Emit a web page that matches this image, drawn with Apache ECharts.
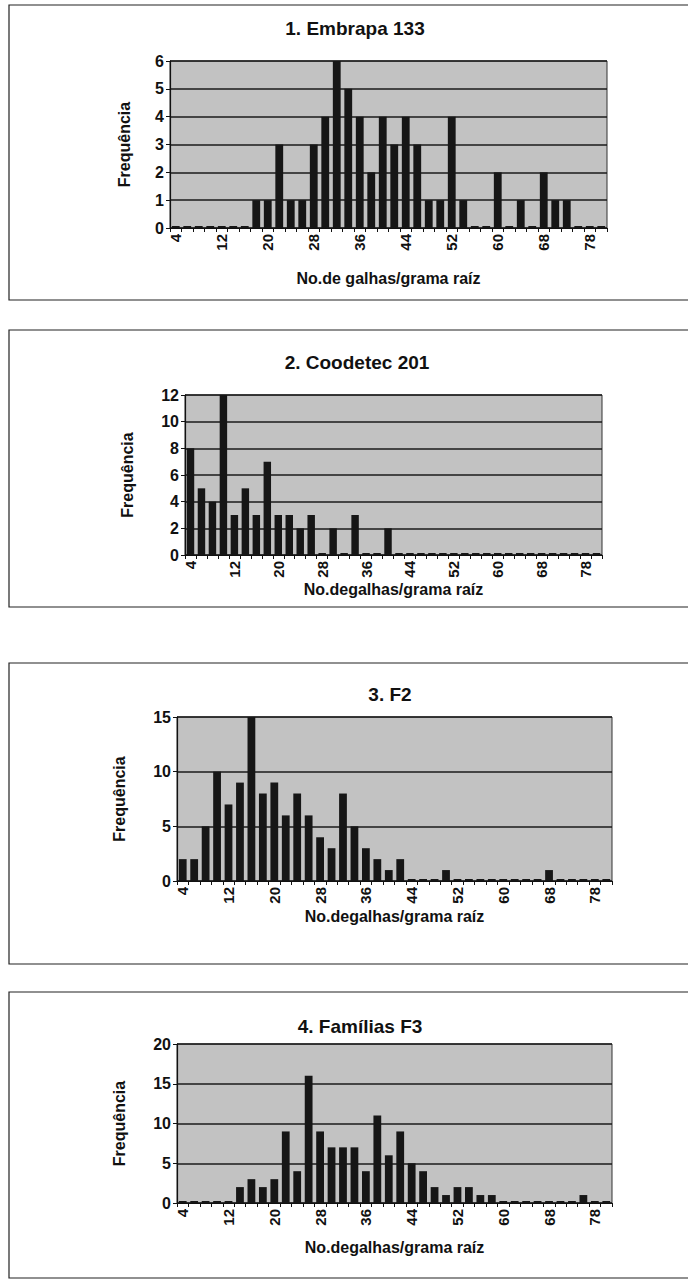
<!DOCTYPE html>
<html><head><meta charset="utf-8">
<script src="https://cdn.jsdelivr.net/npm/echarts@6/dist/echarts.min.js"></script>
<style>html,body{margin:0;padding:0;background:#fff}#c{width:688px;height:1286px}</style>
</head><body><div id="c"></div>
<script>
// categories: No. de galhas / grama raíz
const categories = ['4','6','8','10','12','14','16','18','20','22','24','26','28','30','32','34','36','38','40','42','44','46','48','50','52','54','56','58','60','62','64','66','68','70','72','74','78','80'];
const xTickLabels = ['4','12','20','28','36','44','52','60','68','78'];

const titles = ['1. Embrapa 133', '2. Coodetec 201', '3. F2', '4. Famílias F3'];
const xNames = ['No.de galhas/grama raíz', 'No.degalhas/grama raíz', 'No.degalhas/grama raíz', 'No.degalhas/grama raíz'];
const yName = 'Frequência';

const embrapa133 = [0,0,0,0,0,0,0,1,1,3,1,1,3,4,6,5,4,2,4,3,4,3,1,1,4,1,0,0,2,0,1,0,2,1,1,0,0,0];
const coodetec201 = [8,5,4,12,3,5,3,7,3,3,2,3,0,2,0,3,0,0,2,0,0,0,0,0,0,0,0,0,0,0,0,0,0,0,0,0,0,0];
const f2 = [2,2,5,10,7,9,15,8,9,6,8,6,4,3,8,5,3,2,1,2,0,0,0,1,0,0,0,0,0,0,0,0,1,0,0,0,0,0];
const familiasF3 = [0,0,0,0,0,2,3,2,3,9,4,16,9,7,7,7,4,11,6,9,5,4,2,1,2,2,1,1,0,0,0,0,0,0,0,1,0,0];

const yMax = [6, 12, 15, 20];
const yStep = [1, 2, 5, 5];
const seriesData = [embrapa133, coodetec201, f2, familiasF3];

// layout (pixels)
const grids = [
  {left:170, top:61, width:437, height:167},
  {left:185, top:395, width:417, height:160},
  {left:177, top:717, width:435, height:164},
  {left:177, top:1044, width:435, height:159}
];
const panels = [[9,5,690,295],[9,330,690,277],[9,663,690,301],[9,992,690,286]];
const titlePos = [[350,14],[352,348],[385,680],[355,1012]];
const yNameGap = [38, 50, 50, 50];
const xNameGap = [42, 24, 27, 36];

const FONT = '"Liberation Sans", Arial, sans-serif';
const tickSet = new Set(xTickLabels);

const option = {
  animation:false,
  backgroundColor:'#ffffff',
  textStyle:{fontFamily:FONT},
  graphic: panels.map(p => ({type:'rect', shape:{x:p[0], y:p[1], width:p[2], height:p[3]}, style:{fill:'none', stroke:'#222', lineWidth:1.2}, z:-10})),
  title: titles.map((t,i) => ({text:t, left:titlePos[i][0], top:titlePos[i][1], textAlign:'center',
      textStyle:{fontFamily:FONT, fontWeight:'bold', fontSize:19, color:'#111'}})),
  grid: grids.map(g => Object.assign({show:true, backgroundColor:'#c2c2c2', borderColor:'#333', borderWidth:1, containLabel:false}, g)),
  xAxis: grids.map((g,i) => ({
    type:'category', gridIndex:i, data:categories,
    name:xNames[i], nameLocation:'middle', nameGap:xNameGap[i],
    nameTextStyle:{fontFamily:FONT, fontWeight:'bold', fontSize:16, color:'#111'},
    axisLine:{lineStyle:{color:'#111', width:1.2}},
    axisTick:{show:true, interval:0, length:4, lineStyle:{color:'#111'}},
    axisLabel:{interval:0, rotate:90, margin:6, fontFamily:FONT, fontWeight:'bold', fontSize:15, color:'#111',
      formatter: v => tickSet.has(v) ? v : '', hideOverlap:false},
    splitLine:{show:false}
  })),
  yAxis: grids.map((g,i) => ({
    type:'value', gridIndex:i, min:0, max:yMax[i], interval:yStep[i],
    name:yName, nameLocation:'middle', nameRotate:90, nameGap:yNameGap[i],
    nameTextStyle:{fontFamily:FONT, fontWeight:'bold', fontSize:16, color:'#111'},
    axisLine:{show:true, lineStyle:{color:'#111', width:1.2}},
    axisTick:{show:true, length:4, lineStyle:{color:'#111'}},
    axisLabel:{margin:6, fontFamily:FONT, fontWeight:'bold', fontSize:16, color:'#111'},
    splitLine:{show:true, lineStyle:{color:'#1a1a1a', width:1.5}}
  })),
  series: seriesData.map((d,i) => ({
    type:'bar', xAxisIndex:i, yAxisIndex:i, data:d,
    barWidth:'68%', barMinHeight:2,
    itemStyle:{color:'#161616'}
  }))
};

const chart = echarts.init(document.getElementById('c'), null, {renderer:'svg'});
chart.setOption(option);
</script>
</body></html>
